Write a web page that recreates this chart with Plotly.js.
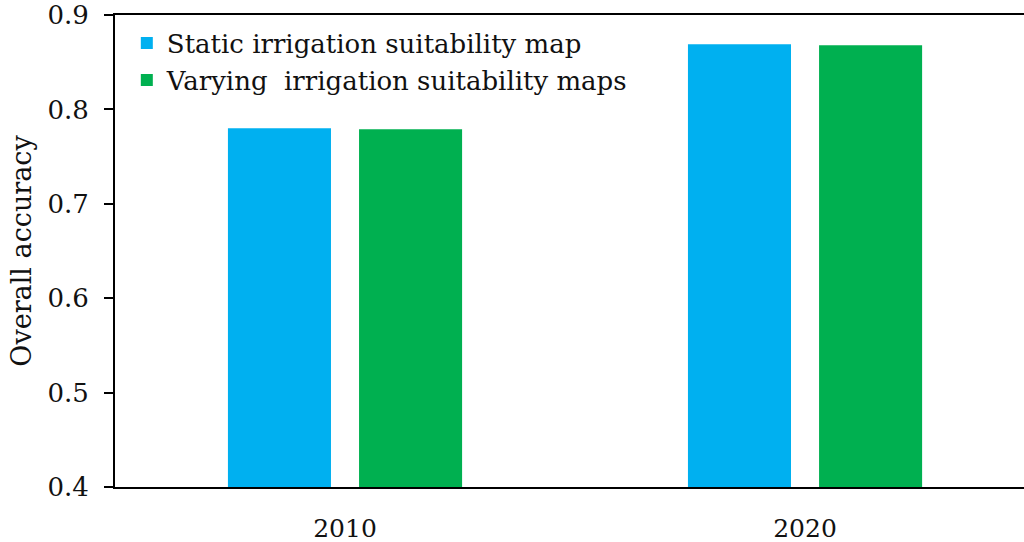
<!DOCTYPE html>
<html><head><meta charset="utf-8">
<script src="https://cdn.plot.ly/plotly-3.0.1.min.js"></script>
<style>html,body{margin:0;padding:0;background:#fff}#chart{width:1024px;height:542px}</style>
</head><body><div id="chart"></div>
<script>
const years = ["2010", "2020"];
const staticValues = [0.780, 0.869];
const varyingValues = [0.779, 0.868];
const seriesNames = ["Static irrigation suitability map", "Varying\u00a0 irrigation suitability maps"];
const yTicks = [0.4, 0.5, 0.6, 0.7, 0.8, 0.9];

const font = "DejaVu Serif, Liberation Serif, serif";
const traces = [
  {type: "bar", x: years, y: staticValues, name: seriesNames[0], marker: {color: "#00B0F0"}},
  {type: "bar", x: years, y: varyingValues, name: seriesNames[1], marker: {color: "#00B050"}}
];
const layout = {
  width: 1024, height: 542,
  margin: {l: 115, r: 0, t: 15, b: 55},
  paper_bgcolor: "#fff", plot_bgcolor: "#fff",
  barmode: "group", bargap: 0.43, bargroupgap: 0.214,
  showlegend: true,
  legend: {x: 0.013, y: 0.99, xanchor: "left", yanchor: "top", bgcolor: "rgba(0,0,0,0)",
           font: {family: font, size: 26, color: "#111"}, tracegroupgap: 0, itemwidth: 30},
  xaxis: {type: "category", range: [-0.5, 1.476], showline: true, linecolor: "#000", linewidth: 2,
          mirror: true, ticks: "", showgrid: false, zeroline: false,
          tickfont: {family: font, size: 25, color: "#111"}, ticklabelstandoff: 18},
  yaxis: {range: [0.4, 0.9], tickvals: yTicks, ticktext: yTicks.map(v => v.toFixed(1)),
          showline: true, linecolor: "#000", linewidth: 2, ticks: "outside", ticklen: 9,
          tickwidth: 2, tickcolor: "#000", showgrid: false, zeroline: false, ticklabelstandoff: 10,
          tickfont: {family: font, size: 26, color: "#111"},
          title: {text: "Overall accuracy", font: {family: font, size: 27, color: "#111"}, standoff: 8}}
};
Plotly.newPlot("chart", traces, layout, {displayModeBar: false, staticPlot: true});
</script></body></html>
